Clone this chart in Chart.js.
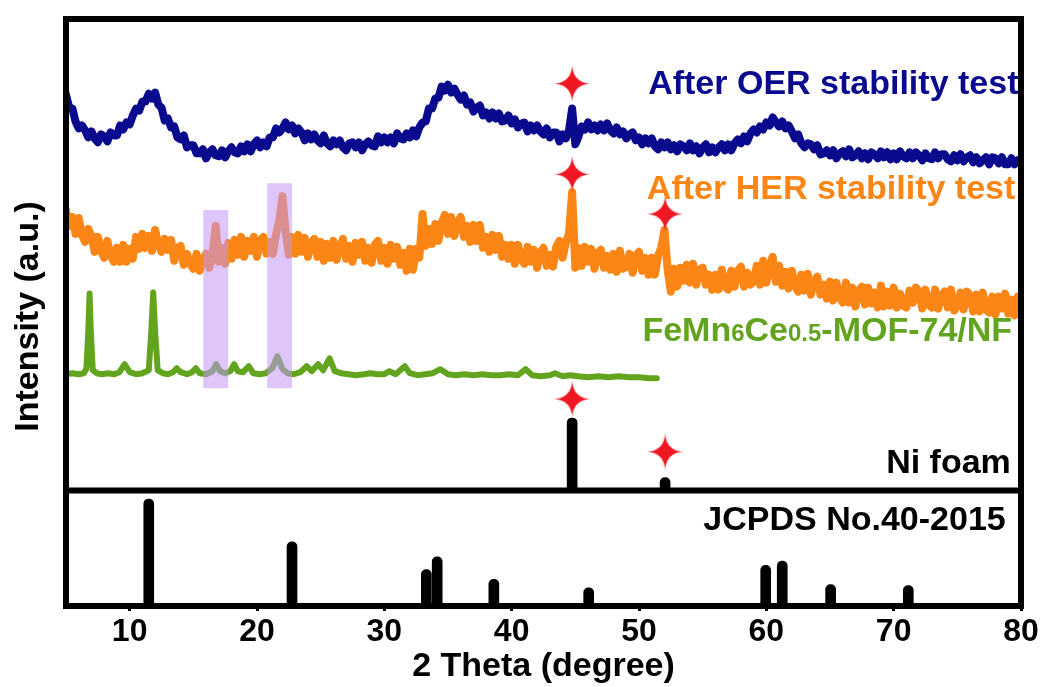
<!DOCTYPE html>
<html lang="en">
<head>
  <meta charset="UTF-8" />
  <title>XRD patterns - FeMn6Ce0.5-MOF-74/NF</title>
  <script src="https://cdn.jsdelivr.net/npm/chart.js"></script>
  <style>
    body { margin: 0; background: #fff; }
    canvas { display: block; }
  </style>
</head>
<body>
  <canvas id="xrdChart" width="1049" height="687"></canvas>
  <script>
    // scans after the stability tests, sampled every 0.25 deg from 5 to 80
    const scanStart = 5;
    const scanStep = 0.25;
    const oerIntensity = [
      398, 385, 384, 371,  364, 367, 362, 355,  361, 354, 350, 358,  356, 351, 360, 357,  357, 367, 363, 370,
      368, 377, 384, 382,  391, 391, 399, 394,  400, 388, 385, 372,  374, 365, 366, 355,  353, 357, 345, 347,
      347, 339, 339, 343,  334, 340, 343, 337,  336, 342, 335, 341,  345, 340, 339, 346,  341, 348, 341, 348,
      352, 345, 350, 346,  355, 355, 364, 360,  364, 370, 363, 367,  359, 364, 360, 352,  359, 353, 358, 352,
      349, 357, 349, 346,  352, 348, 352, 345,  342, 349, 350, 345,  350, 342, 348, 351,  347, 346, 356, 350,
      355, 350, 355, 349,  359, 354, 353, 359,  355, 362, 356, 365,  370, 371, 384, 384,  394, 395, 406, 402,
      408, 400, 404, 398,  393, 397, 388, 390,  381, 385, 387, 377,  380, 374, 380, 374,  379, 371, 372, 377,
      369, 373, 365, 369,  370, 361, 367, 362,  367, 361, 358, 364,  355, 360, 360, 351,  358, 354, 362, 384,
      348, 356, 366, 363,  370, 363, 367, 362,  368, 362, 369, 362,  359, 365, 358, 361,  354, 358, 360, 352,
      355, 348, 354, 349,  354, 346, 343, 350,  345, 350, 343, 347,  341, 348, 346, 342,  349, 342, 346, 339,
      345, 348, 340, 345,  340, 345, 348, 342,  348, 342, 349, 353,  349, 356, 351, 359,  363, 360, 366, 363,
      370, 367, 375, 370,  366, 371, 364, 367,  361, 354, 358, 349,  345, 349, 348, 343,  347, 338, 339, 342,
      337, 342, 334, 339,  341, 336, 343, 335,  337, 341, 334, 339,  333, 340, 338, 334,  341, 335, 340, 333,
      339, 333, 341, 336,  334, 340, 334, 340,  337, 332, 339, 334,  333, 340, 334, 338,  338, 333, 331, 337,
      332, 338, 331, 335,  337, 330, 335, 329,  332, 335, 328, 335,  334, 329, 335, 328,  328, 334, 328, 332,
      329
    ];
    const herIntensity = [
      282, 266, 275, 258,  274, 257, 250, 263,  256, 240, 255, 241,  234, 251, 237, 230,  244, 230, 247, 230,
      243, 233, 255, 243,  258, 244, 256, 241,  262, 247, 240, 253,  242, 252, 231, 244,  246, 227, 238, 228,
      223, 238, 221, 232,  238, 224, 236, 266,  230, 244, 228, 249,  233, 252, 237, 255,  235, 251, 241, 255,
      235, 251, 255, 238,  250, 238, 258, 271,  296, 259, 237, 255,  238, 257, 240, 254,  235, 249, 253, 235,
      250, 231, 248, 234,  251, 232, 244, 253,  233, 246, 230, 249,  237, 250, 231, 244,  229, 247, 251, 231,
      244, 228, 247, 233,  245, 227, 239, 221,  243, 222, 243, 234,  278, 246, 263, 248,  268, 251, 269, 277,
      258, 275, 256, 269,  275, 255, 266, 250,  267, 251, 267, 244,  255, 240, 257, 242,  256, 235, 247, 233,
      247, 228, 247, 233,  228, 245, 230, 242,  224, 239, 244, 226,  237, 225, 245, 251,  234, 249, 258, 300,
      224, 244, 226, 245,  230, 243, 223, 239,  242, 224, 236, 222,  238, 220, 241, 223,  225, 238, 219, 236,
      240, 221, 234, 217,  234, 217, 236, 244,  262, 222, 200, 223,  205, 224, 211, 227,  209, 228, 207, 222,
      224, 207, 217, 202,  217, 202, 222, 205,  202, 221, 205, 221,  225, 205, 219, 207,  210, 226, 207, 231,
      209, 226, 235, 210,  226, 206, 220, 203,  221, 206, 200, 217,  201, 218, 197, 210,  215, 197, 207, 193,
      210, 191, 209, 195,  189, 209, 189, 204,  185, 201, 205, 187,  204, 188, 199, 184,  206, 185, 200, 186,
      204, 184, 198, 186,  184, 201, 189, 204,  200, 183, 202, 187,  184, 202, 183, 196,  200, 184, 202, 181,
      186, 199, 182, 200,  196, 180, 197, 180,  199, 182, 179, 195,  177, 195, 183, 198,  178, 192, 176, 195,
      182
    ];

    // as-prepared FeMn6Ce0.5-MOF-74/NF (scan stops near 51.5 deg)
    const mofTheta = [
      5.0, 5.5, 6.0, 6.4, 6.6, 6.75, 6.85, 6.95, 7.1, 7.4, 7.8, 8.3, 8.8, 9.2, 9.6, 10.0, 10.5, 11.0,
      11.5, 11.7, 11.85, 12.0, 12.2, 12.6, 13.0, 13.4, 13.7, 14.0, 14.5, 14.9, 15.2, 15.5, 16.0, 16.5,
      16.8, 17.1, 17.5, 17.9, 18.2, 18.5, 18.9, 19.35, 19.7, 20.2, 20.7, 21.2, 21.6, 22.0, 22.4, 22.9,
      23.4, 23.9, 24.3, 24.8, 25.2, 25.7, 26.1, 26.6, 27.2, 27.8, 28.4, 28.9, 29.5, 30.0, 30.4, 30.9,
      31.6, 32.0, 32.6, 33.2, 33.8, 34.4, 35.0, 35.6, 36.3, 37.0, 37.7, 38.4, 39.1, 39.8, 40.5, 41.1,
      41.6, 42.3, 43.0, 43.4, 44.0, 44.6, 45.2, 46.0, 46.8, 47.6, 48.4, 49.2, 50.0, 50.8, 51.4
    ];
    const mofIntensity = [
      117, 118, 117, 118, 122, 160, 198, 160, 121, 118, 117, 118, 117, 119, 127, 119, 117, 118,
      121, 160, 199, 160, 121, 118, 117, 119, 123, 119, 117, 119, 123, 118, 117, 120,
      127, 120, 118, 120, 127, 120, 119, 125, 118, 117, 118, 123, 135, 122, 118, 117,
      119, 125, 120, 127, 121, 133, 120, 118, 117, 116, 117, 118, 117, 117, 120, 117,
      125, 118, 116, 117, 118, 122, 117, 116, 117, 116, 117, 116, 116, 117, 116, 122,
      116, 115, 116, 118, 115, 116, 115, 114, 115, 114, 115, 114, 114, 113, 113
    ];

    // Ni foam substrate reflections
    const niFoamTheta = [44.75, 52.05];
    const niFoamIntensity = [73, 13];

    // reference card JCPDS No.40-2015 (relative intensity)
    const jcpdsTheta = [11.5, 22.75, 33.3, 34.15, 38.6, 46.05, 59.95, 61.25, 65.05, 71.15];
    const jcpdsIntensity = [100, 60, 34, 46, 25, 17, 38, 42, 20, 19];

    // Ni markers
    const starTheta = [44.75, 44.75, 52.05, 44.75, 52.05];
    const starIntensity = [409, 318, 278, 92, 39];

    // shaded MOF reflections kept after HER
    const bandTheta = [[15.78, 17.74], [20.8, 22.75]];
    const bandTop = [282, 309];
    const bandBottom = 103;

    const xTicks = [10, 20, 30, 40, 50, 60, 70, 80];

    const FONT = '"Liberation Sans", Arial, sans-serif';
    const OER_COLOR = '#0a0a8e';
    const HER_COLOR = '#fb8616';
    const MOF_COLOR = '#63a41f';
    const STAR_COLOR = '#ef1822';

    const scan = arr => arr.map((v, i) => ({ x: scanStart + i * scanStep, y: v }));
    const pairs = (xs, ys) => xs.map((x, i) => ({ x: x, y: ys[i] }));

    function makeStar(size) {
      const c = document.createElement('canvas');
      c.width = c.height = size;
      const g = c.getContext('2d');
      const m = size / 2, r = size / 2 - 0.5, k = 1.2;
      g.fillStyle = STAR_COLOR;
      g.beginPath();
      g.moveTo(m, m - r);
      g.quadraticCurveTo(m + k, m - k, m + r, m);
      g.quadraticCurveTo(m + k, m + k, m, m + r);
      g.quadraticCurveTo(m - k, m + k, m - r, m);
      g.quadraticCurveTo(m - k, m - k, m, m - r);
      g.closePath();
      g.fill();
      return c;
    }
    const starImg = makeStar(37);

    function drawRuns(ctx, runs, right, baseline, color) {
      ctx.fillStyle = color;
      ctx.textAlign = 'left';
      ctx.textBaseline = 'alphabetic';
      const fonts = runs.map(r => `bold ${r[1] ? 24 : 34}px ${FONT}`);
      const widths = runs.map((r, i) => { ctx.font = fonts[i]; return ctx.measureText(r[0]).width; });
      let x = right - widths.reduce((a, b) => a + b, 0);
      runs.forEach((r, i) => {
        ctx.font = fonts[i];
        ctx.fillText(r[0], x, baseline);
        x += widths[i];
      });
    }

    const decorations = {
      id: 'decorations',
      afterDatasetsDraw(chart) {
        const { ctx, scales } = chart;
        const { x, y, yRef } = scales;
        ctx.save();

        ctx.fillStyle = 'rgba(194, 149, 246, 0.54)';
        bandTheta.forEach((b, i) => {
          const x0 = x.getPixelForValue(b[0]);
          const x1 = x.getPixelForValue(b[1]);
          const y0 = y.getPixelForValue(bandTop[i]);
          const y1 = y.getPixelForValue(bandBottom);
          ctx.fillRect(x0, y0, x1 - x0, y1 - y0);
        });

        drawRuns(ctx, [['After OER stability test']], x.getPixelForValue(79.8), y.getPixelForValue(399), OER_COLOR);
        drawRuns(ctx, [['After HER stability test']], x.getPixelForValue(79.55), y.getPixelForValue(293), HER_COLOR);
        drawRuns(ctx, [['FeMn'], ['6', true], ['Ce'], ['0.5', true], ['-MOF-74/NF']],
          x.getPixelForValue(79.3), y.getPixelForValue(150), MOF_COLOR);
        drawRuns(ctx, [['Ni foam']], x.getPixelForValue(79.2), y.getPixelForValue(18), '#000');
        drawRuns(ctx, [['JCPDS No.40-2015']], x.getPixelForValue(78.8), yRef.getPixelForValue(71), '#000');

        ctx.restore();
      },
      afterDraw(chart) {
        const { ctx, chartArea, scales } = chart;
        ctx.save();
        ctx.strokeStyle = '#000';
        ctx.lineWidth = 6;
        ctx.strokeRect(chartArea.left, chartArea.top, chartArea.right - chartArea.left, chartArea.bottom - chartArea.top);
        ctx.beginPath();
        ctx.moveTo(chartArea.left, scales.y.bottom);
        ctx.lineTo(chartArea.right, scales.y.bottom);
        ctx.stroke();

        ctx.translate(38, (chartArea.top + chartArea.bottom) / 2 + 4);
        ctx.rotate(-Math.PI / 2);
        ctx.fillStyle = '#000';
        ctx.font = `bold 34px ${FONT}`;
        ctx.textAlign = 'center';
        ctx.textBaseline = 'alphabetic';
        ctx.fillText('Intensity (a.u.)', 0, 0);
        ctx.restore();
      }
    };

    const line = (label, data, color, width) => ({
      label: label,
      data: data,
      borderColor: color,
      borderWidth: width,
      borderJoinStyle: 'round',
      borderCapStyle: 'round',
      pointRadius: 0,
      tension: 0,
      fill: false,
      yAxisID: 'y'
    });

    new Chart(document.getElementById('xrdChart'), {
      type: 'line',
      data: {
        datasets: [
          {
            label: 'Ni',
            data: pairs(starTheta, starIntensity),
            showLine: false,
            pointStyle: starImg,
            pointRadius: 18,
            yAxisID: 'y'
          },
          line('After OER stability test', scan(oerIntensity), OER_COLOR, 8),
          line('After HER stability test', scan(herIntensity), HER_COLOR, 8),
          line('FeMn6Ce0.5-MOF-74/NF', pairs(mofTheta, mofIntensity), MOF_COLOR, 6),
          {
            type: 'bar',
            label: 'Ni foam',
            data: pairs(niFoamTheta, niFoamIntensity),
            backgroundColor: '#000',
            barThickness: 10,
            grouped: false,
            borderRadius: { topLeft: 5, topRight: 5, bottomLeft: 0, bottomRight: 0 },
            borderSkipped: 'start',
            yAxisID: 'y'
          },
          {
            type: 'bar',
            label: 'JCPDS No.40-2015',
            data: pairs(jcpdsTheta, jcpdsIntensity),
            backgroundColor: '#000',
            barThickness: 10,
            grouped: false,
            borderRadius: { topLeft: 5, topRight: 5, bottomLeft: 0, bottomRight: 0 },
            borderSkipped: 'start',
            yAxisID: 'yRef'
          }
        ]
      },
      options: {
        responsive: false,
        devicePixelRatio: 1,
        animation: false,
        events: [],
        layout: { padding: { left: 66, right: 28, top: 16, bottom: 0 } },
        plugins: {
          legend: { display: false },
          tooltip: { enabled: false }
        },
        scales: {
          x: {
            type: 'linear',
            min: 5,
            max: 80,
            offset: false,
            afterBuildTicks: s => { s.ticks = xTicks.map(v => ({ value: v })); },
            afterFit: s => { s.height = 81; },
            grid: {
              display: true,
              offset: false,
              drawOnChartArea: false,
              drawTicks: true,
              tickLength: 5,
              tickWidth: 3,
              tickColor: '#000'
            },
            border: { display: false },
            ticks: {
              color: '#000',
              padding: 2,
              maxRotation: 0,
              autoSkip: false,
              font: { family: FONT, size: 32, weight: 'bold' }
            },
            title: {
              display: true,
              text: '2 Theta (degree)',
              color: '#000',
              padding: 0,
              font: { family: FONT, size: 34, weight: 'bold' }
            }
          },
          y: { type: 'linear', min: 0, max: 474, stack: 'xrd', stackWeight: 474, weight: 2, display: false },
          yRef: { type: 'linear', position: 'left', min: 0, max: 108, stack: 'xrd', stackWeight: 116, weight: 1, display: false }
        }
      },
      plugins: [decorations]
    });
  </script>
</body>
</html>
